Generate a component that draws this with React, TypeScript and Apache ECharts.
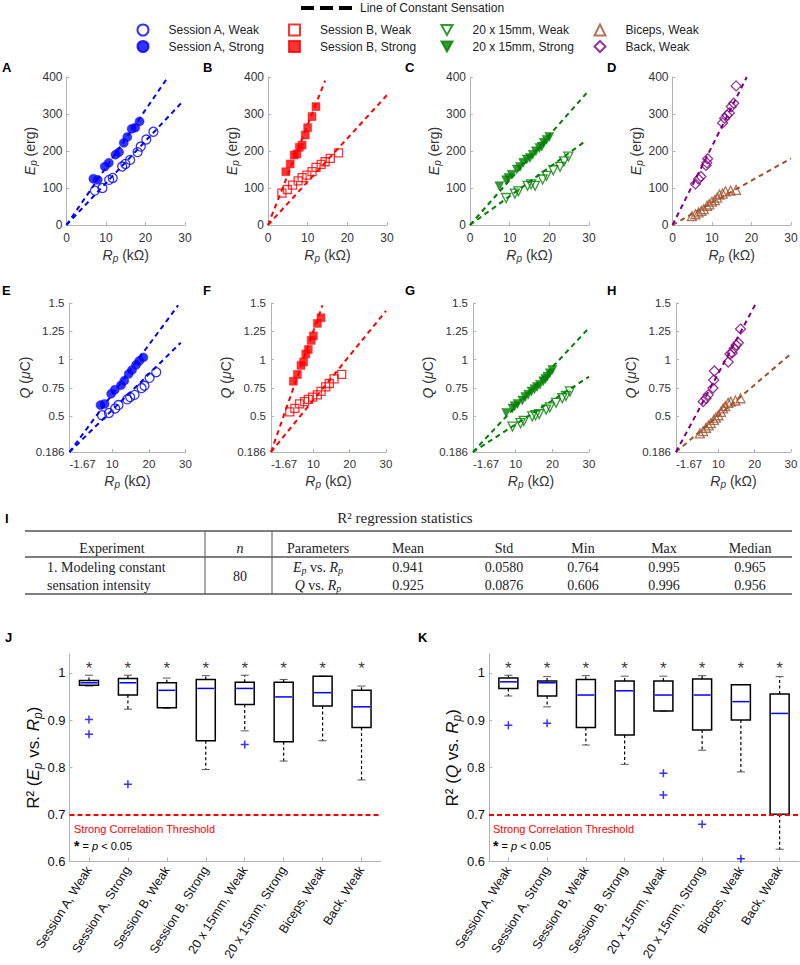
import React, { useEffect, useRef } from 'react';
import * as echarts from 'echarts';

// ---------------- data ----------------
// Session A
const aWeakR = [7.2, 9.1, 10.8, 11.7, 14.1, 14.9, 16.1, 18.0, 18.8, 20.2, 22.0];
const aWeakE = [93, 100, 122, 127, 158, 165, 176, 197, 212, 231, 252];
const aWeakQ = [0.51, 0.53, 0.57, 0.6, 0.65, 0.67, 0.69, 0.75, 0.77, 0.84, 0.89];
const aStrongR = [6.8, 7.9, 9.7, 10.7, 12.4, 13.3, 14.5, 15.4, 16.5, 17.4, 18.5];
const aStrongE = [125, 122, 158, 168, 190, 197, 222, 238, 260, 263, 280];
const aStrongQ = [0.6, 0.61, 0.7, 0.735, 0.775, 0.815, 0.875, 0.91, 0.955, 0.99, 1.02];
// Session B
const bWeakR = [3.5, 4.9, 6.2, 7.6, 8.6, 9.8, 11.1, 12.1, 13.4, 14.4, 15.7, 17.8];
const bWeakE = [86, 96, 108, 119, 128, 135, 144, 156, 164, 171, 180, 195];
const bWeakQ = [0.54, 0.57, 0.61, 0.63, 0.65, 0.67, 0.69, 0.72, 0.76, 0.79, 0.83, 0.87];
const bStrongR = [4.5, 5.6, 6.6, 7.3, 7.9, 8.6, 9.4, 10.0, 11.1, 12.1];
const bStrongE = [144, 165, 189, 192, 210, 216, 243, 263, 293, 320];
const bStrongQ = [0.81, 0.87, 0.95, 0.98, 1.05, 1.09, 1.17, 1.21, 1.32, 1.37];
// 20 x 15mm
const cWeakR = [9.1, 11.3, 12.2, 14.5, 15.4, 16.4, 18.3, 19.3, 21.0, 22.7, 23.7, 24.8];
const cWeakE = [73, 85, 91, 106, 110, 106, 123, 133, 148, 157, 172, 185];
const cWeakQ = [0.41, 0.44, 0.46, 0.5, 0.51, 0.52, 0.56, 0.58, 0.62, 0.66, 0.68, 0.72];
const cStrongR = [7.4, 9.1, 9.7, 10.5, 11.8, 12.6, 13.4, 14.3, 15.1, 15.8, 16.6, 17.5, 18.1, 18.6, 19.3, 20.0];
const cStrongE = [105, 121, 127, 136, 150, 157, 168, 177, 181, 190, 199, 208, 212, 222, 230, 238];
const cStrongQ = [0.53, 0.57, 0.59, 0.61, 0.64, 0.67, 0.69, 0.72, 0.74, 0.76, 0.78, 0.81, 0.83, 0.85, 0.88, 0.91];
// Biceps / Back
const bicR = [4.9, 5.8, 6.6, 7.3, 7.9, 8.75, 9.3, 10.0, 10.7, 11.3, 11.9, 12.7, 13.4, 14.7, 16.1];
const bicE = [24, 29, 34, 38, 43, 52, 56, 63, 67, 74, 82, 85, 91, 93, 95];
const bicQ = [0.35, 0.37, 0.4, 0.42, 0.44, 0.47, 0.49, 0.51, 0.54, 0.57, 0.59, 0.62, 0.63, 0.64, 0.66];
const backR = [5.8, 6.6, 7.2, 8.5, 8.7, 8.9, 12.7, 13.2, 13.8, 14.4, 14.9, 15.5, 16.1];
const backE = [111, 124, 131, 161, 168, 179, 276, 288, 297, 303, 320, 329, 376];
const backQ = [0.63, 0.66, 0.69, 0.75, 0.82, 0.9, 0.98, 1.05, 1.06, 1.1, 1.13, 1.15, 1.27];

// Lines of constant sensation (end points in data units)
const fitAWeakE = [[0, 0], [29, 329]];
const fitAStrongE = [[0, 0], [25.7, 400]];
const fitBWeakE = [[0, 0], [30, 351]];
const fitBStrongE = [[0, 0], [14.4, 390]];
const fitCWeakE = [[0, 0], [29, 226]];
const fitCStrongE = [[0, 0], [30, 364]];
const fitBicE = [[0, 0], [30, 180]];
const fitBackE = [[0, 0], [18.8, 400]];
const fitAWeakQ = [[-1.67, 0.186], [28.7, 1.15]];
const fitAStrongQ = [[-1.67, 0.186], [28, 1.48]];
const fitBWeakQ = [[-1.67, 0.186], [30, 1.43]];
const fitBStrongQ = [[-1.67, 0.186], [12.5, 1.48]];
const fitCWeakQ = [[-1.67, 0.186], [30, 0.85]];
const fitCStrongQ = [[-1.67, 0.186], [30, 1.28]];
const fitBicQ = [[-1.67, 0.186], [30, 1.053]];
const fitBackQ = [[-1.67, 0.186], [20.4, 1.5]];

// tick values
const xTicksE = [0, 10, 20, 30];
const yTicksE = [0, 100, 200, 300, 400];
const xTicksQ = [-1.67, 10, 20, 30];
const yTicksQ = [0.186, 0.5, 0.75, 1, 1.25, 1.5];
const r2Ticks = [0.6, 0.7, 0.8, 0.9, 1];

// box plots: [low whisker, Q1, median, Q3, high whisker]
const boxCategories = ['Session A, Weak', 'Session A, Strong', 'Session B, Weak', 'Session B, Strong', '20 x 15mm, Weak', '20 x 15mm, Strong', 'Biceps, Weak', 'Back, Weak'];
const boxEp = [
  [0.972, 0.974, 0.979, 0.984, 0.995],
  [0.923, 0.953, 0.979, 0.988, 0.995],
  [0.925, 0.926, 0.963, 0.979, 0.989],
  [0.795, 0.856, 0.967, 0.986, 0.994],
  [0.877, 0.933, 0.967, 0.98, 0.995],
  [0.813, 0.854, 0.949, 0.98, 0.986],
  [0.856, 0.93, 0.958, 0.993, 0.993],
  [0.773, 0.884, 0.928, 0.963, 0.972],
];
const outliersEp = [[0, 0.901], [0, 0.87], [1, 0.764], [4, 0.848]];
const boxQ = [
  [0.951, 0.967, 0.981, 0.989, 0.995],
  [0.928, 0.951, 0.979, 0.983, 0.992],
  [0.847, 0.884, 0.953, 0.986, 0.994],
  [0.806, 0.868, 0.962, 0.983, 0.993],
  [0.919, 0.919, 0.953, 0.983, 0.993],
  [0.836, 0.879, 0.953, 0.987, 0.994],
  [0.79, 0.9, 0.939, 0.975, 0.975],
  [0.626, 0.7, 0.914, 0.955, 0.992],
];
const outliersQ = [[0, 0.889], [1, 0.893], [4, 0.787], [4, 0.741], [5, 0.679], [6, 0.606]];
const threshold = 0.7;
const starLevel = 1.009;

// table
const tableHeaders = ['Experiment', 'n', 'Parameters', 'Mean', 'Std', 'Min', 'Max', 'Median'];
const statsEp = ['0.941', '0.0580', '0.764', '0.995', '0.965'];
const statsQ = ['0.925', '0.0876', '0.606', '0.996', '0.956'];
const experimentLines = ['1. Modeling constant', 'sensation intensity'];
const experimentN = '80';

// ---------------- styles ----------------
const FONT = 'Liberation Sans';
const SERIF = 'Liberation Serif';
const AXIS_GRAY = '#b4b4b4';
const BLUE = '#0000ff';
const RED = '#ff0000';
const GREEN = '#008000';
const BROWN = '#a0522d';
const PURPLE = '#800080';
const TRI_DOWN = 'path://M0,0L10,0L5,9Z';

const zip = (xs: number[], ys: number[]) => xs.map((x, i) => [x, ys[i]]);

const panelGrids = [
  { left: 66.5, top: 77, width: 118.5, height: 148 },
  { left: 268, top: 77, width: 119, height: 148 },
  { left: 470, top: 77, width: 119, height: 148 },
  { left: 672.5, top: 77, width: 118.5, height: 148 },
  { left: 69.5, top: 303, width: 116, height: 149 },
  { left: 271, top: 303, width: 115, height: 149 },
  { left: 473, top: 303, width: 116, height: 149 },
  { left: 676, top: 303, width: 115, height: 149 },
  { left: 69.5, top: 654, width: 311.5, height: 207.5 },
  { left: 489, top: 654, width: 310, height: 207.5 },
];

const nameRich = (size: number, sub: number, pad: number, color: string) => ({
  i: { fontStyle: 'italic', fontSize: size, fontFamily: FONT, color },
  s: { fontStyle: 'italic', fontSize: sub, fontFamily: FONT, color, padding: [pad, 0, 0, 0] },
});

const commonAxis = (color = '#333', size = 12, margin = 6) => ({
  axisLine: { show: true, onZero: false, lineStyle: { color: AXIS_GRAY, width: 1 } },
  axisTick: { show: true, inside: true, length: 3, lineStyle: { color: AXIS_GRAY } },
  axisLabel: { fontSize: size, fontFamily: FONT, color, margin },
  splitLine: { show: false },
});

function buildOption() {
  const xAxis: any[] = [];
  const yAxis: any[] = [];
  for (let i = 0; i < 8; i++) {
    const rowE = i < 4;
    const base = commonAxis();
    xAxis.push({
      type: 'value', gridIndex: i,
      min: rowE ? 0 : -1.67, max: 30,
      ...base,
      axisTick: { ...base.axisTick, customValues: rowE ? xTicksE : xTicksQ },
      axisLabel: { ...base.axisLabel, fontSize: rowE ? 12 : 11.5, margin: rowE ? 7 : 6, customValues: rowE ? xTicksE : xTicksQ, alignMinLabel: rowE ? 'center' : 'left' },
      name: '{i|R}{s|p} (kΩ)', nameLocation: 'middle', nameGap: rowE ? 21 : 20,
      nameTextStyle: { fontSize: 14, fontFamily: FONT, color: '#333', rich: nameRich(14, 10, 7, '#333') },
    });
    yAxis.push({
      type: 'value', gridIndex: i,
      min: rowE ? 0 : 0.186, max: rowE ? 400 : 1.5,
      ...base,
      axisTick: { ...base.axisTick, customValues: rowE ? yTicksE : yTicksQ },
      axisLabel: { ...base.axisLabel, fontSize: rowE ? 12 : 11.5, margin: rowE ? 4 : 5, customValues: rowE ? yTicksE : yTicksQ },
      name: rowE ? '{i|E}{s|p} (erg)' : '{i|Q} ({i|μ}C)', nameLocation: 'middle', nameGap: rowE ? 27 : 30,
      nameTextStyle: { fontSize: 14, fontFamily: FONT, color: '#333', rich: nameRich(14, 10, 7, '#333') },
    });
  }
  for (let k = 0; k < 2; k++) {
    const gi = 8 + k;
    const base = commonAxis('#111', 13, 4);
    xAxis.push({
      type: 'category', gridIndex: gi, data: boxCategories, boundaryGap: true,
      ...base,
      axisTick: { show: true, inside: true, alignWithLabel: true, length: 4, lineStyle: { color: AXIS_GRAY } },
      axisLabel: { fontSize: 12.5, fontFamily: FONT, color: '#111', rotate: 58, interval: 0, margin: 6 },
    });
    yAxis.push({
      type: 'value', gridIndex: gi, min: 0.6, max: 1.04,
      ...base,
      axisTick: { ...base.axisTick, customValues: r2Ticks },
      axisLabel: { ...base.axisLabel, customValues: r2Ticks },
      name: k === 0 ? 'R² ({i|E}{s|p} vs. {i|R}{s|p})' : 'R² ({i|Q} vs. {i|R}{s|p})',
      nameLocation: 'middle', nameGap: 22,
      nameTextStyle: { fontSize: 17, fontFamily: FONT, color: '#111', rich: nameRich(17, 12, 9, '#111') },
    });
  }

  const sc = (name: string, gi: number, xs: number[], ys: number[], symbol: string, color: string, filled: boolean, size: number, rotate = 0) => ({
    type: 'scatter', name, xAxisIndex: gi, yAxisIndex: gi, data: zip(xs, ys),
    symbol, symbolSize: size, symbolRotate: rotate, z: 3, silent: true,
    itemStyle: filled ? { color, borderColor: color, borderWidth: 0.5 } : { color: 'transparent', borderColor: color, borderWidth: 1.3 },
  });
  const fit = (gi: number, data: number[][], color: string) => ({
    type: 'line', xAxisIndex: gi, yAxisIndex: gi, data, symbol: 'none', showSymbol: false, silent: true, z: 2,
    lineStyle: { color, width: 2, type: [5, 4] },
  });

  const series: any[] = [
    { type: 'line', name: 'Line of Constant Sensation', data: [], xAxisIndex: 0, yAxisIndex: 0, color: '#000', symbol: 'none', lineStyle: { color: '#000', type: [5, 4], width: 2 } },
    fit(0, fitAWeakE, BLUE), fit(0, fitAStrongE, BLUE),
    sc('Session A, Weak', 0, aWeakR, aWeakE, 'circle', BLUE, false, 9),
    sc('Session A, Strong', 0, aStrongR, aStrongE, 'circle', BLUE, true, 9),
    fit(1, fitBWeakE, RED), fit(1, fitBStrongE, RED),
    sc('Session B, Weak', 1, bWeakR, bWeakE, 'rect', RED, false, 8),
    sc('Session B, Strong', 1, bStrongR, bStrongE, 'rect', RED, true, 8),
    fit(2, fitCWeakE, GREEN), fit(2, fitCStrongE, GREEN),
    sc('20 x 15mm, Weak', 2, cWeakR, cWeakE, 'triangle', GREEN, false, 9, 180),
    sc('20 x 15mm, Strong', 2, cStrongR, cStrongE, 'triangle', GREEN, true, 9, 180),
    fit(3, fitBicE, BROWN), fit(3, fitBackE, PURPLE),
    sc('Biceps, Weak', 3, bicR, bicE, 'triangle', BROWN, false, 9),
    sc('Back, Weak', 3, backR, backE, 'diamond', PURPLE, false, 10),

    fit(4, fitAWeakQ, BLUE), fit(4, fitAStrongQ, BLUE),
    sc('Session A, Weak', 4, aWeakR, aWeakQ, 'circle', BLUE, false, 9),
    sc('Session A, Strong', 4, aStrongR, aStrongQ, 'circle', BLUE, true, 9),
    fit(5, fitBWeakQ, RED), fit(5, fitBStrongQ, RED),
    sc('Session B, Weak', 5, bWeakR, bWeakQ, 'rect', RED, false, 8),
    sc('Session B, Strong', 5, bStrongR, bStrongQ, 'rect', RED, true, 8),
    fit(6, fitCWeakQ, GREEN), fit(6, fitCStrongQ, GREEN),
    sc('20 x 15mm, Weak', 6, cWeakR, cWeakQ, 'triangle', GREEN, false, 9, 180),
    sc('20 x 15mm, Strong', 6, cStrongR, cStrongQ, 'triangle', GREEN, true, 9, 180),
    fit(7, fitBicQ, BROWN), fit(7, fitBackQ, PURPLE),
    sc('Biceps, Weak', 7, bicR, bicQ, 'triangle', BROWN, false, 9),
    sc('Back, Weak', 7, backR, backQ, 'diamond', PURPLE, false, 10),
  ];

  const renderBox = (params: any, api: any) => {
    const i = api.value(0);
    const p = (v: number) => api.coord([i, v]);
    const [x, yLow] = p(api.value(1));
    const yQ1 = p(api.value(2))[1];
    const yMed = p(api.value(3))[1];
    const yQ3 = p(api.value(4))[1];
    const yHigh = p(api.value(5))[1];
    const w = 19;
    const cap = 4;
    const dash = { stroke: '#000', lineWidth: 1.2, lineDash: [3, 2.5] };
    return {
      type: 'group',
      children: [
        { type: 'line', shape: { x1: x, y1: yQ3, x2: x, y2: yHigh }, style: dash },
        { type: 'line', shape: { x1: x, y1: yQ1, x2: x, y2: yLow }, style: dash },
        { type: 'line', shape: { x1: x - cap, y1: yHigh, x2: x + cap, y2: yHigh }, style: { stroke: '#555', lineWidth: 1 } },
        { type: 'line', shape: { x1: x - cap, y1: yLow, x2: x + cap, y2: yLow }, style: { stroke: '#555', lineWidth: 1 } },
        { type: 'rect', shape: { x: x - w / 2, y: yQ3, width: w, height: yQ1 - yQ3 }, style: { fill: 'none', stroke: '#000', lineWidth: 1.5 } },
        { type: 'line', shape: { x1: x - w / 2 + 1, y1: yMed, x2: x + w / 2 - 1, y2: yMed }, style: { stroke: BLUE, lineWidth: 1.5 } },
      ],
    };
  };

  [[boxEp, outliersEp], [boxQ, outliersQ]].forEach(([boxes, outs]: any, k) => {
    const gi = 8 + k;
    series.push({
      type: 'scatter', xAxisIndex: gi, yAxisIndex: gi, silent: true, z: 1,
      data: boxCategories.map((_, i) => [i, starLevel]),
      symbol: 'circle', symbolSize: 0,
      label: { show: true, position: 'inside', formatter: '*', fontSize: 17, fontFamily: FONT, color: '#000' },
      markLine: {
        silent: true, symbol: ['none', 'none'], label: { show: false },
        lineStyle: { color: RED, width: 2, type: [5, 3] },
        data: [{ yAxis: threshold }],
      },
    });
    series.push({
      type: 'custom', xAxisIndex: gi, yAxisIndex: gi, silent: true, z: 3,
      data: boxes.map((b: number[], i: number) => [i, ...b]),
      encode: { x: 0, y: [1, 2, 3, 4, 5] },
      renderItem: renderBox,
    });
    series.push({
      type: 'scatter', xAxisIndex: gi, yAxisIndex: gi, silent: true, z: 4,
      data: outs, symbol: 'path://M4,0V8M0,4H8', symbolSize: 8,
      itemStyle: { color: 'transparent', borderColor: BLUE, borderWidth: 1.5 },
    });
  });

  const legendText = { fontSize: 12, fontFamily: FONT, color: '#222', lineHeight: 14 };
  const colLegend = (left: number, items: any[]) => ({
    left, top: 23, orient: 'vertical', padding: 0, itemGap: 2.5, itemWidth: 11, itemHeight: 11,
    selectedMode: false, data: items, textStyle: { ...legendText, padding: [0, 0, 0, 15] },
  });
  const legend = [
    {
      left: 301, top: 1, padding: 0, itemWidth: 51, itemHeight: 4, selectedMode: false,
      data: [{ name: 'Line of Constant Sensation', icon: 'path://M0,0H13V4H0Z M19,0H32V4H19Z M38,0H51V4H38Z' }],
      textStyle: { ...legendText, padding: [0, 0, 0, 3] },
    },
    colLegend(136.5, [{ name: 'Session A, Weak', icon: 'circle' }, { name: 'Session A, Strong', icon: 'circle' }]),
    colLegend(288, [{ name: 'Session B, Weak', icon: 'rect' }, { name: 'Session B, Strong', icon: 'rect' }]),
    colLegend(440.5, [{ name: '20 x 15mm, Weak', icon: TRI_DOWN }, { name: '20 x 15mm, Strong', icon: TRI_DOWN }]),
    colLegend(593.5, [{ name: 'Biceps, Weak', icon: 'triangle' }, { name: 'Back, Weak', icon: 'diamond' }]),
  ];

  const letter = (t: string, x: number, y: number) => ({
    type: 'text', x, y, silent: true,
    style: { text: t, fontSize: 13, fontWeight: 'bold', fontFamily: FONT, fill: '#000', verticalAlign: 'middle' },
  });
  const serifText = (t: string, x: number, y: number, align = 'center', extra: any = {}) => ({
    type: 'text', x, y, silent: true,
    style: { text: t, fontSize: 14, fontFamily: SERIF, fill: '#222', align, verticalAlign: 'middle', ...extra },
  });
  const serifRich = {
    i: { fontStyle: 'italic', fontSize: 14, fontFamily: SERIF, fill: '#222', color: '#222' },
    s: { fontStyle: 'italic', fontSize: 10, fontFamily: SERIF, fill: '#222', color: '#222', padding: [6, 0, 0, 0] },
  };
  const hline = (x1: number, x2: number, y: number, w: number) => ({
    type: 'line', silent: true, shape: { x1, y1: y, x2, y2: y }, style: { stroke: '#555', lineWidth: w },
  });
  const vline = (x: number, y1: number, y2: number) => ({
    type: 'line', silent: true, shape: { x1: x, y1, x2: x, y2 }, style: { stroke: '#555', lineWidth: 1 },
  });

  const colX = [112, 240, 318, 408, 504, 583, 664, 750];
  const graphic: any[] = [
    letter('A', 2, 67), letter('B', 203, 67), letter('C', 405, 67), letter('D', 607, 67),
    letter('E', 2, 290), letter('F', 203, 290), letter('G', 405, 290), letter('H', 607, 290),
    letter('I', 5, 518), letter('J', 5, 637), letter('K', 418, 637),
    serifText('R² regression statistics', 405, 518, 'center', { fontSize: 15 }),
    hline(25, 792, 531, 1.5), hline(25, 792, 557, 1.5), hline(25, 792, 594, 1.5),
    vline(205, 531, 594), vline(272, 531, 594),
    ...tableHeaders.map((h, k) => serifText(h, colX[k], 548, 'center', k === 1 ? { fontStyle: 'italic' } : {})),
    serifText(experimentLines[0], 47, 567, 'left'),
    serifText(experimentLines[1], 47, 585, 'left'),
    serifText(experimentN, colX[1], 576),
    serifText('{i|E}{s|p} vs. {i|R}{s|p}', colX[2], 567, 'center', { rich: serifRich }),
    serifText('{i|Q} vs. {i|R}{s|p}', colX[2], 585, 'center', { rich: serifRich }),
    ...statsEp.map((v, k) => serifText(v, colX[3 + k], 567)),
    ...statsQ.map((v, k) => serifText(v, colX[3 + k], 585)),
  ];
  [74, 493].forEach((x) => {
    graphic.push({
      type: 'text', x, y: 829, silent: true,
      style: { text: 'Strong Correlation Threshold', fontSize: 11, fontFamily: FONT, fill: RED, verticalAlign: 'middle' },
    });
    graphic.push({
      type: 'text', x, y: 846, silent: true,
      style: {
        text: '{b|*} = {i|p} < 0.05', fontSize: 11, fontFamily: FONT, fill: '#000', verticalAlign: 'middle',
        rich: { b: { fontSize: 14, fontWeight: 'bold', fontFamily: FONT, fill: '#000', color: '#000' }, i: { fontStyle: 'italic', fontSize: 11, fontFamily: FONT, fill: '#000', color: '#000' } },
      },
    });
  });

  return {
    animation: false,
    backgroundColor: '#fff',
    textStyle: { fontFamily: FONT },
    grid: panelGrids.map((g) => ({ ...g, containLabel: false, outerBoundsMode: 'none' })),
    xAxis, yAxis, series, legend, graphic,
  };
}

export default function App() {
  const ref = useRef<HTMLDivElement>(null);
  useEffect(() => {
    document.body.style.margin = '0';
    const chart = echarts.init(ref.current!, null, { renderer: 'svg' });
    chart.setOption(buildOption() as any);
    return () => chart.dispose();
  }, []);
  return <div ref={ref} style={{ width: 800, height: 965 }} />;
}
